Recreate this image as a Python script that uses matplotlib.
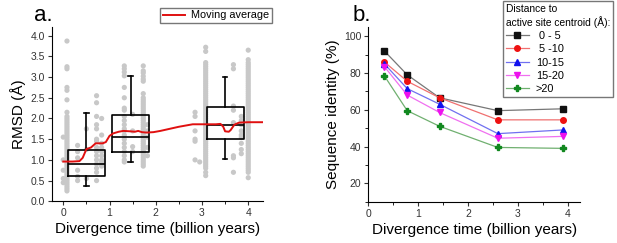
import numpy as np
import matplotlib.pyplot as plt
from matplotlib.ticker import MultipleLocator

plt.rcParams['font.family'] = ['Liberation Sans', 'DejaVu Sans']

# ---- panel a: RMSD scatter columns (x position, RMSD values) ----
col_x = [0.0, 0.08, 0.31, 0.5, 0.72, 0.83, 1.32, 1.5, 1.73, 1.82, 2.85, 2.95, 3.08, 3.68, 3.85, 4.0]
col_y = [
    [1.55, 1.0, 0.75, 0.55, 0.45],
    [3.87, 3.25, 3.2, 2.75, 2.68, 2.45, 2.15, 2.05, 2.0, 1.95, 1.9, 1.85, 1.8, 1.75, 1.7, 1.65,
     1.6, 1.55, 1.5, 1.45, 1.4, 1.35, 1.3, 1.25, 1.2, 1.15, 1.1, 1.05, 1.0, 0.95, 0.9, 0.85,
     0.8, 0.75, 0.7, 0.65, 0.6, 0.55, 0.5, 0.45, 0.4, 0.35, 0.3, 0.25],
    [1.35, 1.2, 1.05, 0.75, 0.6, 0.5],
    [1.75, 1.25, 0.55],
    [2.55, 2.38, 2.05, 1.85, 1.75, 1.5, 1.45, 1.3, 1.2, 1.1, 1.0, 0.9, 0.8, 0.7, 0.5],
    [2.0, 1.6, 1.4, 1.3, 1.2, 1.1, 1.0, 0.95, 0.9, 0.85],
    [3.27, 3.2, 3.12, 3.03, 2.75, 2.5, 2.25, 2.2, 2.05, 1.95, 1.85, 1.75, 1.7, 1.6, 1.5,
     1.4, 1.3, 1.2, 1.1, 1.0, 0.95],
    [2.1, 1.7, 1.32, 1.2],
    [3.27, 3.15, 3.1, 3.02, 2.95, 2.9, 2.6, 2.5, 2.45, 2.4, 2.35, 2.3, 2.25, 2.2, 2.15, 2.1,
     2.05, 2.0, 1.95, 1.9, 1.85, 1.8, 1.75, 1.7, 1.65, 1.6, 1.55, 1.5, 1.45, 1.4, 1.35, 1.3,
     1.25, 1.2, 1.15, 1.1, 1.05, 1.0, 0.95, 0.9, 0.85],
    [1.85, 1.7, 1.55, 1.3, 1.1],
    [2.15, 2.05, 1.7, 1.5, 1.45, 1.0],
    [0.95],
    [3.72, 3.62, 3.35, 3.3, 3.25, 3.2, 3.15, 3.1, 3.05, 3.0, 2.95, 2.9, 2.85, 2.8, 2.75, 2.7,
     2.65, 2.6, 2.55, 2.5, 2.45, 2.4, 2.35, 2.3, 2.25, 2.2, 2.15, 2.1, 2.05, 2.0, 1.95, 1.9,
     1.85, 1.8, 1.75, 1.7, 1.65, 1.6, 1.55, 1.5, 1.45, 1.4, 1.35, 1.3, 1.25, 1.2, 1.15, 1.1,
     1.05, 1.0, 0.95, 0.9, 0.85, 0.8, 0.7, 0.62],
    [3.3, 3.2, 2.3, 2.2, 1.9, 1.1, 1.05, 0.7],
    [2.05, 1.95, 1.85, 1.7, 1.6, 1.55, 1.4, 1.25, 1.15],
    [3.65, 3.42, 3.35, 3.3, 3.25, 3.2, 3.15, 3.1, 3.05, 3.0, 2.95, 2.9, 2.85, 2.8, 2.75, 2.7,
     2.65, 2.6, 2.55, 2.5, 2.45, 2.4, 2.35, 2.3, 2.25, 2.2, 2.15, 2.1, 2.05, 2.0, 1.95, 1.9,
     1.85, 1.8, 1.75, 1.7, 1.65, 1.6, 1.55, 1.5, 1.45, 1.4, 1.35, 1.3, 1.25, 1.2, 1.15, 1.1,
     1.05, 1.0, 0.95, 0.9, 0.85, 0.8, 0.75, 0.7, 0.57],
]

# box plot summaries
box_pos = [0.5, 1.46, 3.5]
box_q1 = [0.62, 1.2, 1.5]
box_med = [0.9, 1.55, 1.85]
box_q3 = [1.25, 2.08, 2.27]
box_lo = [0.38, 0.95, 1.03]
box_hi = [2.13, 3.03, 3.0]

# moving average
ma_x = [0.0, 0.2, 0.35, 0.42, 0.5, 0.6, 0.7, 0.85, 0.92, 1.0, 1.08, 1.2, 1.3, 1.45, 1.55, 1.62,
        1.7, 1.8, 1.95, 2.1, 2.3, 2.5, 2.8, 3.1, 3.3, 3.4, 3.46, 3.5, 3.58, 3.62, 3.7, 3.8, 4.0, 4.3]
ma_y = [0.96, 0.96, 0.97, 1.05, 1.26, 1.3, 1.4, 1.4, 1.43, 1.58, 1.64, 1.68, 1.7, 1.69, 1.68, 1.7,
        1.67, 1.66, 1.67, 1.7, 1.75, 1.8, 1.86, 1.86, 1.86, 1.87, 1.8, 1.69, 1.68, 1.72, 1.85, 1.9,
        1.91, 1.91]

# ---- panel b: sequence identity ----
time_b = [0.32, 0.78, 1.43, 2.6, 3.9]
series_labels = [' 0 - 5', ' 5 -10', '10-15', '15-20', '>20']
id_0_5 = [92, 79, 66.5, 59.5, 60.5]
id_5_10 = [86, 75.5, 66.5, 54.5, 54.5]
id_10_15 = [85, 71.5, 63, 47, 49]
id_15_20 = [83.5, 68, 58.5, 44.5, 45.5]
id_20 = [78.5, 59.5, 51, 39.5, 39]
series_vals = [id_0_5, id_5_10, id_10_15, id_15_20, id_20]
series_colors = ['#111111', '#ee1111', '#1111ee', '#ee11ee', '#11881f']
line_colors = ['#777777', '#f07070', '#7070f0', '#f070f0', '#70b070']
series_markers = ['s', 'o', '^', 'v', 'P']

fig = plt.figure(figsize=(6.17, 2.43), dpi=100)
tick_col = '#333333'

# panel a
ax = fig.add_axes([0.0838, 0.1716, 0.3425, 0.7157])
for x, ys in zip(col_x, col_y):
    ax.scatter([x] * len(ys), ys, s=14, color='#c8c8c8', edgecolors='none', zorder=1)

stats = []
for i in range(len(box_pos)):
    stats.append(dict(med=box_med[i], q1=box_q1[i], q3=box_q3[i],
                      whislo=box_lo[i], whishi=box_hi[i], fliers=[]))
ax.bxp(stats, positions=box_pos, widths=0.8, showfliers=False,
       boxprops=dict(color='black', linewidth=1.2),
       medianprops=dict(color='black', linewidth=1.2),
       whiskerprops=dict(color='black', linewidth=1.2),
       capprops=dict(color='black', linewidth=1.2), capwidths=0.1,
       manage_ticks=False, zorder=2)
ax.plot(ma_x, ma_y, color='#e01010', linewidth=1.4, zorder=3, label='Moving average')

ax.set_xlim(-0.25, 4.32)
ax.set_ylim(0, 4.2)
ax.set_yticks(np.arange(0, 4.01, 0.5))
ax.set_yticklabels(['%.1f' % v for v in np.arange(0, 4.01, 0.5)])
ax.set_xticks([0, 1, 2, 3, 4])
ax.xaxis.set_minor_locator(MultipleLocator(0.5))
ax.spines['top'].set_visible(False)
ax.spines['right'].set_visible(False)
ax.tick_params(labelsize=7.5, length=3, colors=tick_col, pad=2)
ax.tick_params(which='minor', length=2)
ax.set_xlabel('Divergence time (billion years)', fontsize=11, labelpad=3)
ax.set_ylabel('RMSD (Å)', fontsize=11, labelpad=3)
fig.text(0.055, 0.912, 'a.', fontsize=16)
fig.legend(loc='upper left', bbox_to_anchor=(0.259, 0.968), fontsize=7.8, frameon=True,
           fancybox=False, edgecolor='#555555', borderpad=0.25, handlelength=2.1,
           handletextpad=0.5, borderaxespad=0)

# panel b
bx = fig.add_axes([0.597, 0.17, 0.343, 0.719])
for vals, lab, c, lc, m in zip(series_vals, series_labels, series_colors, line_colors, series_markers):
    bx.plot(time_b, vals, color=lc, marker=m, markersize=4, markerfacecolor=c,
            markeredgecolor=c, linewidth=0.9, label=lab)
bx.set_xlim(0, 4.25)
bx.set_ylim(10, 105)
bx.set_xticks([0, 1, 2, 3, 4])
bx.set_yticks([20, 40, 60, 80, 100])
bx.xaxis.set_minor_locator(MultipleLocator(0.5))
bx.yaxis.set_minor_locator(MultipleLocator(10))
bx.spines['top'].set_visible(False)
bx.spines['right'].set_visible(False)
bx.tick_params(labelsize=7.5, length=3, colors=tick_col, pad=2)
bx.tick_params(which='minor', length=2)
bx.set_xlabel('Divergence time (billion years)', fontsize=11, labelpad=3)
bx.set_ylabel('Sequence identity (%)', fontsize=11, labelpad=3)
fig.text(0.572, 0.912, 'b.', fontsize=16)
leg = bx.legend(loc='upper left', bbox_to_anchor=(0.815, 0.995), bbox_transform=fig.transFigure,
                title='Distance to\nactive site centroid (Å):', fontsize=7.8, title_fontsize=7.4,
                frameon=True, fancybox=False, edgecolor='#555555', borderpad=0.25,
                handlelength=2.2, handletextpad=0.6, labelspacing=0.3, borderaxespad=0)
leg._legend_box.align = 'left'

fig.savefig('out.png', dpi=100)
